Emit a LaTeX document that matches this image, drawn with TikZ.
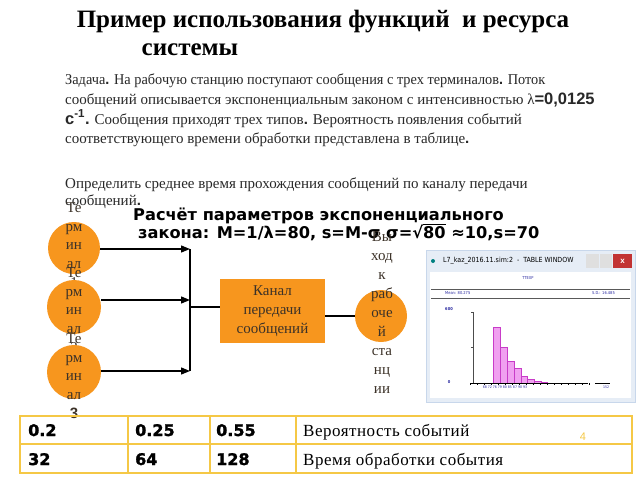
\documentclass[tikz,border=0pt]{standalone}
\usepackage{fontspec}
\setmainfont{Liberation Serif}
\newfontfamily\bsans{Liberation Sans}
\newfontfamily\vsans{DejaVu Sans}
\newfontfamily\heavysans[FakeBold=1.5]{DejaVu Sans}
\newfontfamily\condsans{DejaVu Sans Condensed}
\newfontfamily\tabfont[LetterSpace=3]{Liberation Serif}
\usetikzlibrary{arrows.meta}
\definecolor{orng}{RGB}{247,150,30}
\definecolor{gold}{RGB}{245,200,70}
\definecolor{pinkbar}{RGB}{240,160,240}
\definecolor{pinkedge}{RGB}{200,60,200}
\definecolor{winframe}{RGB}{200,215,235}
\definecolor{lblue}{RGB}{40,40,160}
\definecolor{txtgray}{RGB}{60,50,40}
\definecolor{partxt}{RGB}{40,40,40}
\newcommand{\bd}[1]{{\bsans\bfseries #1}}
\begin{document}
\begin{tikzpicture}[x=1pt,y=-1pt,
  term/.style={circle,fill=orng,minimum width=50pt,inner sep=0pt},
  ttext/.style={align=center,font=\fontsize{15}{18.7}\selectfont,text=txtgray,inner sep=0pt},
  arr/.style={-{Triangle[length=9pt,width=7pt]},line width=1.3pt},
  ln/.style={line width=1.3pt},
  partext/.style={anchor=base west,inner sep=0pt,text=partxt,font=\fontsize{15}{15}\selectfont},
  cell/.style={anchor=base west,inner sep=0pt},
  num/.style={cell,font=\heavysans\bfseries\fontsize{16}{16}\selectfont},
  ctext/.style={cell,font=\tabfont\fontsize{17}{17}\selectfont},
  formula/.style={anchor=base west,inner sep=0pt,font=\vsans\bfseries\fontsize{16.2}{16}\selectfont},
  tiny/.style={text=lblue,inner sep=0pt,font=\condsans\fontsize{4}{4}\selectfont}]
\useasboundingbox (0,0) rectangle (640,480);
\fill[white] (0,0) rectangle (640,480);
% title
\node[anchor=base,inner sep=0pt,font=\bfseries\fontsize{25}{25}\selectfont] (title1) at (323,27) {Пример использования функций\ \ и ресурса};
\node[anchor=base,inner sep=0pt,font=\bfseries\fontsize{25}{25}\selectfont] (title2) at (190,55) {системы};
% paragraph
\node[partext] (p1) at (65,84) {\scalebox{0.955}[1]{Задача\bd{.} На рабочую станцию поступают сообщения с трех терминалов\bd{.} Поток}};
\node[partext] (p2) at (65,104) {сообщений описывается экспоненциальным законом с интенсивностью λ{\bsans\bfseries\fontsize{16.5}{16}\selectfont =0,0125}};
\node[partext] (p3) at (65,124) {{\bsans\bfseries\fontsize{16.5}{16}\selectfont с\textsuperscript{-1}.} Сообщения приходят трех типов\bd{.} Вероятность появления событий};
\node[partext] (p4) at (65,143) {соответствующего времени обработки представлена в таблице\bd{.}};
\node[partext] (q1) at (65,188) {Определить среднее время прохождения сообщений по каналу передачи};
\node[partext] (q2) at (65,205) {сообщений\bd{.}};
% formula
\node[formula] (f1) at (133,220) {Расчёт параметров экспоненциального};
\node[formula] (f2) at (138,238) {закона: M=1/λ=80, s=M-σ σ=√$\overline{\mbox{\vsans\bfseries 80}}$ ≈10,s=70};
% terminals
\node[term,minimum height=52pt] (t1) at (74,248) {};
\node[ttext] (tt1) at (74,245) {Те\\рм\\ин\\ал\\1};
\node[term,minimum height=54pt] (t2) at (74,307) {};
\node[ttext] (tt2) at (74,310) {Те\\рм\\ин\\ал\\2};
\node[term,minimum height=54pt] (t3) at (74,372) {};
\node[ttext] (tt3) at (74,376) {Те\\рм\\ин\\ал\\\bd{3}};
% bus
\coordinate (j1) at (190,249);
\coordinate (j2) at (190,300);
\coordinate (j3) at (190,371);
\coordinate (jm) at (190,307);
\draw[ln] (j1) -- (j3);
\draw[arr] (t1.east |- j1) -- (j1);
\draw[arr] (t2.east |- j2) -- (j2);
\draw[arr] (t3.east |- j3) -- (j3);
% channel
\node[fill=orng,minimum width=105pt,minimum height=64pt,align=center,inner sep=0pt,
  font=\fontsize{15}{19}\selectfont,text=txtgray] (ch) at (272.5,311) {Канал\\передачи\\сообщений};
\draw[ln] (jm) -- (ch.west |- jm);
% output
\node[circle,fill=orng,minimum size=52pt,inner sep=0pt] (out) at (381,316) {};
\draw[ln] (ch.east |- out) -- (out.west);
\node[align=center,inner sep=0pt,font=\fontsize{15}{19}\selectfont,text=txtgray] (outt) at (382,313) {Вы\\ход\\к\\раб\\оче\\й\\ста\\нц\\ии};
% window screenshot
\node[draw=winframe,fill=winframe!45,line width=1pt,minimum width=209pt,minimum height=152pt,inner sep=0pt] (win) at (530.5,326) {};
\fill[white] (430,272) rectangle (631,398);
\fill[teal] (433,261) circle (2pt);
\node[anchor=west,inner sep=0pt,font=\condsans\fontsize{7}{7}\selectfont] (wt) at (443,261) {L7\_kaz\_2016.11.sim:2\ \ -\ \ TABLE WINDOW};
\fill[gray!25] (586,254) rectangle (599,268);
\fill[gray!25] (600,254) rectangle (612,268);
\node[fill=red!70!black!80,text=white,minimum width=19pt,minimum height=14pt,inner sep=0pt,font=\bsans\bfseries\fontsize{8}{8}\selectfont] (cls) at (622.5,261) {x};
\node[tiny] (tx) at (528,278) {TTEXP};
\draw[gray!70!black,line width=0.8pt] (431,289) -- (630,289);
\draw[gray!70!black,line width=0.8pt] (431,298) -- (630,298);
\node[tiny,anchor=west] (mean) at (445,293.5) {Mean: 80.275};
\node[tiny,anchor=east] (sd) at (615,293.5) {S.D.: 16.485};
\node[tiny,font=\condsans\bfseries\fontsize{4}{4}\selectfont] (y600) at (449,309) {600};
\node[tiny,font=\condsans\bfseries\fontsize{4}{4}\selectfont] (y0) at (449,382) {0};
\draw[gray!60!black,line width=0.6pt] (473,312) -- (473,383);
\draw[gray!60!black,line width=0.6pt] (471,312) -- (473,312) (471,347) -- (473,347);
\foreach \xa/\xb/\yt in {493/500/327,500/507/347,507/514/361,514/521/368,521/527/376,527/534/379,534/541/381,541/547/382}
  \draw[fill=pinkbar,draw=pinkedge,line width=0.4pt] (\xa,383) rectangle (\xb,\yt);
\draw[black,line width=0.8pt] (470,383) -- (588,383) (595,383) -- (610,383);
\foreach \x in {470,477,...,590} \draw[black,line width=0.4pt] (\x,383) -- (\x,385);
\node[tiny,font=\condsans\fontsize{3.5}{3.5}\selectfont] (xl) at (505,387) {68\ 72\ 76\ 79\ 80\ 85\ 87\ 90\ 93};
\node[tiny,font=\condsans\fontsize{3.5}{3.5}\selectfont] (xr) at (606,387) {152};
% table
\draw[gold,line width=1.5pt] (20,416) rectangle (632,473);
\draw[gold,line width=1.5pt] (20,444) -- (632,444);
\draw[gold,line width=1.5pt] (128,416) -- (128,473) (210,416) -- (210,473) (296,416) -- (296,473);
\node[num] (a1) at (28,436) {0.2};
\node[num] (a2) at (135,436) {0.25};
\node[num] (a3) at (216,436) {0.55};
\node[ctext] (a4) at (303,436) {Вероятность событий};
\node[num] (b1) at (28,465) {32};
\node[num] (b2) at (135,465) {64};
\node[num] (b3) at (216,465) {128};
\node[ctext] (b4) at (303,465) {Время обработки события};
\node[text=gold,inner sep=0pt,font=\bsans\fontsize{11}{11}\selectfont] (pg) at (583,437) {4};
\end{tikzpicture}
\end{document}
